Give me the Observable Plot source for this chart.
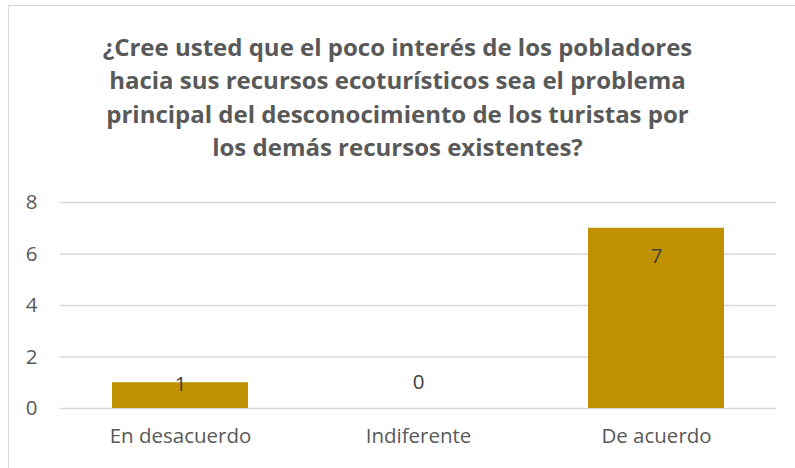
<!DOCTYPE html>
<html>
<head>
<meta charset="utf-8">
<script src="https://cdn.jsdelivr.net/npm/d3@7"></script>
<script src="https://cdn.jsdelivr.net/npm/@observablehq/plot@0.6"></script>
<style>
  html, body { margin: 0; padding: 0; background: #fff; }
  body { width: 795px; height: 468px; position: relative; overflow: hidden; font-family: "Open Sans", sans-serif; }
  #frame { position: absolute; left: 8px; top: 5px; width: 800px; height: 480px; border: 1.5px solid #d9d9d9; box-sizing: border-box; }
  #title { position: absolute; left: 0; top: 30px; width: 795px; text-align: center; font-weight: bold; font-size: 24px; line-height: 33.3px; color: #595959; }
  #chart { position: absolute; left: 0; top: 180px; }
</style>
</head>
<body>
<div id="frame"></div>
<div id="title">¿Cree usted que el poco interés de los pobladores<br>hacia sus recursos ecoturísticos sea el problema<br>principal del desconocimiento de los turistas por<br>los demás recursos existentes?</div>
<div id="chart"></div>
<script>
const categories = ["En desacuerdo", "Indiferente", "De acuerdo"];
const values = [1, 0, 7];
const yTicks = [0, 2, 4, 6, 8];

const data = categories.map((c, i) => ({category: c, value: values[i]}));

const chart = Plot.plot({
  width: 795,
  height: 288,
  marginTop: 22,
  marginBottom: 60,
  marginLeft: 60,
  marginRight: 19,
  style: {fontFamily: "Open Sans, sans-serif", fontSize: "20.5px", color: "#595959", background: "transparent"},
  x: {domain: categories, paddingInner: 0.43, paddingOuter: 0.215, label: null},
  y: {domain: [0, 8], ticks: yTicks, label: null},
  marks: [
    Plot.gridY(yTicks, {stroke: "#d9d9d9", strokeOpacity: 1, strokeWidth: 1.3}),
    Plot.barY(data, {x: "category", y: "value", fill: "#BF9000"}),
    Plot.axisX({tickSize: 0, tickPadding: 20, fontSize: 20.5, fill: "#595959"}),
    Plot.axisY({ticks: yTicks, tickSize: 0, tickPadding: 23, fontSize: 20.5, fill: "#595959"}),
    Plot.text(data.filter(d => d.value >= 2), {x: "category", y: "value", text: d => String(d.value), dy: 28, fontSize: 20.5, fill: "#404040"}),
    Plot.text(data.filter(d => d.value > 0 && d.value < 2), {x: "category", y: "value", text: d => String(d.value), dy: 2, fontSize: 20.5, fill: "#404040"}),
    Plot.text(data.filter(d => d.value === 0), {x: "category", y: "value", text: d => String(d.value), dy: -26, fontSize: 20.5, fill: "#404040"})
  ]
});
document.getElementById("chart").appendChild(chart);
</script>
</body>
</html>
